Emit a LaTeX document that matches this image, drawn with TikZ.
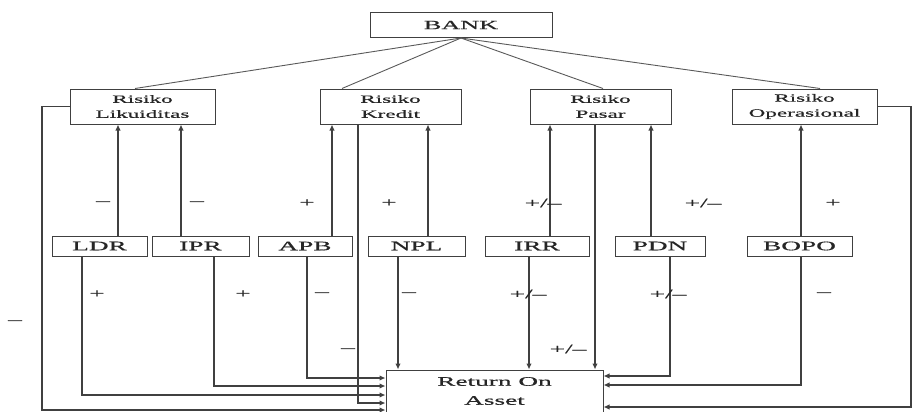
\documentclass[tikz,border=0pt]{standalone}
\usepackage{fontspec}
\setmainfont{Liberation Serif}[FakeStretch=2.1,FakeBold=0.6]
\usetikzlibrary{arrows.meta}
\begin{document}
\begin{tikzpicture}[x=1pt,y=-1pt,
  box/.style={draw=black!75, line width=1pt, fill=white, inner sep=0pt, text=black!85},
  bigbox/.style={box, minimum height=25pt, font=\fontsize{12.5}{14}\selectfont},
  riskbox/.style={box, minimum height=35pt, align=center, font=\fontsize{11}{15}\selectfont},
  ratiobox/.style={box, minimum height=20pt, font=\fontsize{13}{14}\selectfont},
  roabox/.style={box, minimum height=42pt, align=center, font=\fontsize{13}{19}\selectfont},
  conn/.style={draw=black!75, line width=1.1pt},
  thin/.style={draw=black!65, line width=0.9pt},
  arr/.style={conn, -{Latex[length=6pt,width=5.5pt]}},
  sign/.style={inner sep=0pt, text=black!85, font=\fontsize{13}{14}\selectfont}]
\useasboundingbox (0,0) rectangle (918,412);
% boxes
\node[bigbox, minimum width=182pt] (bank) at (461,25) {BANK};
\node[riskbox, minimum width=145pt] (rl) at (142.5,106.5) {Risiko\\Likuiditas};
\node[riskbox, minimum width=141pt] (rk) at (390.5,106.5) {Risiko\\Kredit};
\node[riskbox, minimum width=141pt] (rp) at (600.5,106.5) {Risiko\\Pasar};
\node[riskbox, minimum width=145pt] (ro) at (804.5,106.5) {Risiko\\Operasional};
\node[ratiobox, minimum width=95pt] (ldr) at (99.5,246) {LDR};
\node[ratiobox, minimum width=97pt] (ipr) at (200.5,246) {IPR};
\node[ratiobox, minimum width=94pt] (apb) at (305,246) {APB};
\node[ratiobox, minimum width=97pt] (npl) at (416.5,246) {NPL};
\node[ratiobox, minimum width=104pt] (irr) at (537,246) {IRR};
\node[ratiobox, minimum width=90pt] (pdn) at (660,246) {PDN};
\node[ratiobox, minimum width=105pt] (bopo) at (799.5,246) {BOPO};
\node[roabox, minimum width=217pt] (roa) at (494.5,391) {Return On\\Asset};
% BANK to risks
\draw[thin] (bank.south) -- (135,0 |- rl.north);
\draw[thin] (bank.south) -- (342,0 |- rk.north);
\draw[thin] (bank.south) -- (603,0 |- rp.north);
\draw[thin] (bank.south) -- (820,0 |- ro.north);
% ratios up to risks
\draw[arr] (118,0 |- ldr.north) -- (118,0 |- rl.south);
\draw[arr] (181,0 |- ipr.north) -- (181,0 |- rl.south);
\draw[arr] (332,0 |- apb.north) -- (332,0 |- rk.south);
\draw[arr] (428,0 |- npl.north) -- (428,0 |- rk.south);
\draw[arr] (550,0 |- irr.north) -- (550,0 |- rp.south);
\draw[arr] (651,0 |- pdn.north) -- (651,0 |- rp.south);
\draw[arr] (801,0 |- bopo.north) -- (801,0 |- ro.south);
% ratios down to ROA
\draw[arr] (82,0 |- ldr.south) -- (82,395) -- (roa.west |- 0,395);
\draw[arr] (214,0 |- ipr.south) -- (214,386) -- (roa.west |- 0,386);
\draw[arr] (307,0 |- apb.south) -- (307,378) -- (roa.west |- 0,378);
\draw[arr] (398,0 |- npl.south) -- (398,0 |- roa.north);
\draw[arr] (529,0 |- irr.south) -- (529,0 |- roa.north);
\draw[arr] (670,0 |- pdn.south) -- (670,376) -- (roa.east |- 0,376);
\draw[arr] (801,0 |- bopo.south) -- (801,385) -- (roa.east |- 0,385);
% risks down to ROA
\draw[arr] (rl.west) -- (42,0 |- rl.west) -- (42,410) -- (roa.west |- 0,410);
\draw[arr] (358,0 |- rk.south) -- (358,403) -- (roa.west |- 0,403);
\draw[arr] (595,0 |- rp.south) -- (595,0 |- roa.north);
\draw[arr] (ro.east) -- (911,0 |- ro.east) -- (911,407) -- (roa.east |- 0,407);
% signs upper
\node[sign] (s1) at (103,203) {–};
\node[sign] (s2) at (197,203) {–};
\node[sign] (s3) at (307,203) {+};
\node[sign] (s4) at (389,203) {+};
\node[sign] (s5) at (543,203) {+/–};
\node[sign] (s6) at (703,203) {+/–};
\node[sign] (s7) at (833,203) {+};
% signs lower
\node[sign] (t1) at (97,294) {+};
\node[sign] (t2) at (243,294) {+};
\node[sign] (t3) at (322,294) {–};
\node[sign] (t4) at (409,294) {–};
\node[sign] (t5) at (528,294) {+/–};
\node[sign] (t6) at (668,294) {+/–};
\node[sign] (t7) at (824,294) {–};
% other signs
\node[sign] (u1) at (15,322) {–};
\node[sign] (u2) at (348,350) {–};
\node[sign] (u3) at (568,349) {+/–};
\end{tikzpicture}
\end{document}
